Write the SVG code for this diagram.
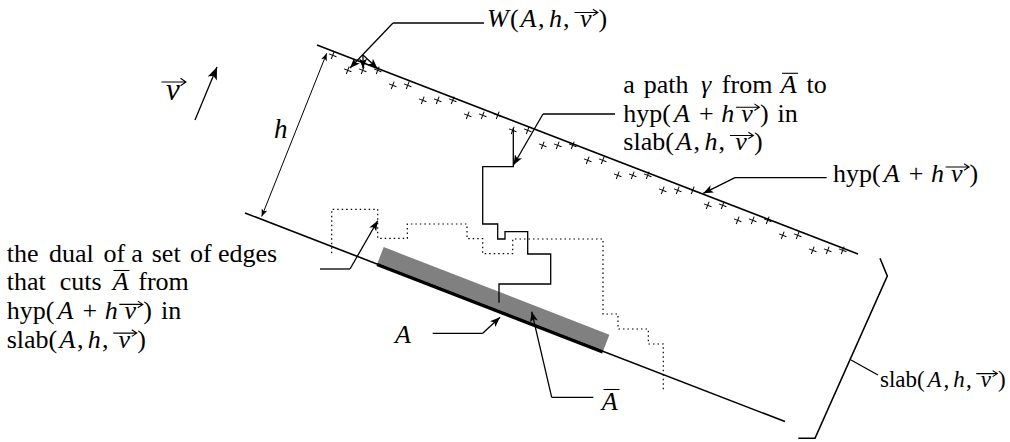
<svg xmlns="http://www.w3.org/2000/svg" width="1010" height="442" viewBox="0 0 1010 442">
<defs>
<style>
.ln{stroke:#000;stroke-width:1.6;fill:none}
.ld{stroke:#000;stroke-width:1.3;fill:none}
.ar{stroke:#000;stroke-width:1.3;fill:none;marker-end:url(#ah)}
.dot{stroke:#000;stroke-width:1.2;fill:none;stroke-dasharray:1.5 3}
.t{font-family:'Liberation Serif','Times New Roman',serif;font-size:26px;fill:#000}
.i{font-style:italic}
.vec{stroke:#000;stroke-width:1.1;fill:none}
.pm{stroke:#000;stroke-width:1;fill:none}
</style>
<marker id="ah" viewBox="0 0 10 8" refX="10" refY="4" markerWidth="10" markerHeight="8" markerUnits="userSpaceOnUse" orient="auto"><path d="M0 0L10 4L0 8L2.5 4Z" fill="#000"/></marker>
<marker id="ahb" viewBox="0 0 10 8" refX="10" refY="4" markerWidth="13" markerHeight="10" markerUnits="userSpaceOnUse" orient="auto"><path d="M0 0L10 4L0 8L2.5 4Z" fill="#000"/></marker>
<marker id="ahs" viewBox="0 0 10 8" refX="10" refY="4" markerWidth="8" markerHeight="6" markerUnits="userSpaceOnUse" orient="auto-start-reverse"><path d="M0 0L10 4L0 8L2.5 4Z" fill="#000"/></marker>
<g id="pl" transform="rotate(21.12)"><path class="pm" d="M-4 0H4M0 -4V4"/></g>
</defs>

<g id="region-A">
<polygon points="377,264.4 602.7,352 609.4,334.7 383.7,247.1" fill="#808080"/>
<line x1="377" y1="264.4" x2="602.7" y2="352" stroke="#000" stroke-width="3.2"/>
</g>

<g id="hyperplanes">
<line class="ln" x1="317" y1="45" x2="858" y2="254"/>
<line class="ln" x1="245" y1="213" x2="785" y2="421.6"/>
</g>

<g id="lattice-W">
<use href="#pl" x="332.7" y="55.3"/><use href="#pl" x="347.7" y="70.3"/><use href="#pl" x="362.7" y="70.3"/><use href="#pl" x="377.7" y="70.3"/>
<use href="#pl" x="392.7" y="85.3"/><use href="#pl" x="407.7" y="85.3"/><use href="#pl" x="422.7" y="100.3"/><use href="#pl" x="437.7" y="100.3"/>
<use href="#pl" x="452.7" y="100.3"/><use href="#pl" x="467.7" y="115.3"/><use href="#pl" x="482.7" y="115.3"/><use href="#pl" x="497.7" y="115.3"/>
<use href="#pl" x="512.7" y="130.3"/><use href="#pl" x="527.7" y="130.3"/><use href="#pl" x="542.7" y="145.3"/><use href="#pl" x="557.7" y="145.3"/>
<use href="#pl" x="572.7" y="145.3"/><use href="#pl" x="587.7" y="160.3"/><use href="#pl" x="602.7" y="160.3"/><use href="#pl" x="617.7" y="175.3"/>
<use href="#pl" x="632.7" y="175.3"/><use href="#pl" x="647.7" y="175.3"/><use href="#pl" x="662.7" y="190.3"/><use href="#pl" x="677.7" y="190.3"/>
<use href="#pl" x="692.7" y="190.3"/><use href="#pl" x="707.7" y="205.3"/><use href="#pl" x="722.7" y="205.3"/><use href="#pl" x="737.7" y="220.3"/>
<use href="#pl" x="752.7" y="220.3"/><use href="#pl" x="767.7" y="220.3"/><use href="#pl" x="782.7" y="235.3"/><use href="#pl" x="797.7" y="235.3"/>
<use href="#pl" x="812.7" y="250.3"/><use href="#pl" x="827.7" y="250.3"/><use href="#pl" x="842.7" y="250.3"/>
</g>

<g id="dual-cut">
<path class="dot" d="M331.7 253.3V209.3H377.7V238.3H407.3V224H467V238.7H482.7V253.7H512.7V239H603V314H618V329H648.3V344H663.3V390"/>
</g>

<g id="path-gamma">
<path class="ld" stroke-width="1.5" d="M499 302.7V284H550.7V254H527.7V231.7H505V239H497.7V224H482.7V166.7H513.3V128"/>
</g>

<g id="slab-bracket">
<polyline class="ln" points="880,258.3 887.3,276 815,438.3 798.3,438.3"/>
</g>

<g id="connectors">
<line x1="195" y1="120" x2="217" y2="67" stroke="#000" stroke-width="1.3" marker-end="url(#ahb)"/>
<line x1="261.7" y1="216.5" x2="326.7" y2="53.3" stroke="#000" stroke-width="1" marker-start="url(#ahs)" marker-end="url(#ahs)"/>
<path class="ld" d="M484 23H393"/>
<path class="ar" d="M393 23L350 68"/>
<path class="ar" d="M363 55L363 68.5"/>
<path class="ar" d="M363 55L377.5 68.5"/>
<path class="ld" d="M615 114H543"/>
<path class="ar" d="M543 114L513.5 165"/>
<path class="ld" d="M826.7 177.7H735"/>
<path class="ar" d="M735 177.7L703.3 193.3"/>
<path class="ld" d="M320 269H350"/>
<path class="ar" d="M350 269L377.7 220.7"/>
<path class="ld" d="M432.7 333.3H482.7"/>
<path class="ar" d="M482.7 333.3L500 317.3"/>
<path class="ld" d="M593.3 397.3H551.7"/>
<path class="ar" d="M551.7 397.3L531.7 311.7"/>
<path class="ld" d="M851 360L878 375"/>
</g>

<g id="label-v">
<text class="t i" x="166" y="100" style="font-size:31px">v</text>
<path class="vec" d="M161.5 82H186M180.5 78.2L186 82L180.5 85.8"/>
</g>

<g id="label-h">
<text class="t i" x="274" y="138" style="font-size:27px">h</text>
</g>

<g id="label-W">
<text class="t" y="27"><tspan class="i" x="487">W</tspan><tspan x="510.1">(</tspan><tspan class="i" x="520.5">A</tspan><tspan x="538">,</tspan><tspan class="i" x="549">h</tspan><tspan x="563">,</tspan><tspan class="i" x="580">v</tspan><tspan x="598.4">)</tspan></text>
<path class="vec" d="M574.4 12.5H597.9M592.9 9.2L597.9 12.5L592.9 15.8"/>
</g>

<g id="label-gamma">
<text class="t" y="93.3"><tspan x="623.3">a</tspan><tspan x="643.75">path</tspan><tspan class="i" x="700.95">γ</tspan><tspan x="721.85">from</tspan><tspan class="i" x="780.85">A</tspan><tspan x="806.45">to</tspan></text>
<path class="vec" d="M782 73.3H798"/>
<text class="t" y="121.7"><tspan x="623.3">hyp(</tspan><tspan class="i" x="674">A</tspan><tspan x="699">+</tspan><tspan class="i" x="721.3">h</tspan><tspan class="i" x="741.2">v</tspan><tspan x="759.9">)</tspan><tspan x="777.6">in</tspan></text>
<path class="vec" d="M735.9 107.2H759.4M754.4 103.9L759.4 107.2L754.4 110.5"/>
<text class="t" y="150"><tspan x="623.3">slab(</tspan><tspan class="i" x="676">A</tspan><tspan x="693.5">,</tspan><tspan class="i" x="704.4">h</tspan><tspan x="718.5">,</tspan><tspan class="i" x="735.2">v</tspan><tspan x="753.9">)</tspan></text>
<path class="vec" d="M729.9 135.5H753.4M748.4 132.2L753.4 135.5L748.4 138.8"/>
</g>

<g id="label-hyp">
<text class="t" y="181.5"><tspan x="833">hyp(</tspan><tspan class="i" x="883.7">A</tspan><tspan x="908.7">+</tspan><tspan class="i" x="931">h</tspan><tspan class="i" x="950.9">v</tspan><tspan x="969.6">)</tspan></text>
<path class="vec" d="M945.6 167H969.1M964.1 163.7L969.1 167L964.1 170.3"/>
</g>

<g id="label-dual">
<text class="t" y="261.5"><tspan x="6.7">the</tspan><tspan x="48.9">dual</tspan><tspan x="103.4">of</tspan><tspan x="131.3">a</tspan><tspan x="151.75">set</tspan><tspan x="190.05">of</tspan><tspan x="217.95">edges</tspan></text>
<text class="t" y="290.2"><tspan x="6.7">that</tspan><tspan x="59.8">cuts</tspan><tspan class="i" x="112.7">A</tspan><tspan x="138.3">from</tspan></text>
<path class="vec" d="M113.5 270.5H129.5"/>
<text class="t" y="318.9"><tspan x="6.7">hyp(</tspan><tspan class="i" x="57.4">A</tspan><tspan x="82.4">+</tspan><tspan class="i" x="104.7">h</tspan><tspan class="i" x="124.6">v</tspan><tspan x="143.3">)</tspan><tspan x="161">in</tspan></text>
<path class="vec" d="M119.3 304.4H142.8M137.8 301.1L142.8 304.4L137.8 307.7"/>
<text class="t" y="347.6"><tspan x="6.7">slab(</tspan><tspan class="i" x="59.5">A</tspan><tspan x="76.9">,</tspan><tspan class="i" x="87.8">h</tspan><tspan x="101.9">,</tspan><tspan class="i" x="118.6">v</tspan><tspan x="137.3">)</tspan></text>
<path class="vec" d="M113.3 333.1H136.8M131.8 329.8L136.8 333.1L131.8 336.4"/>
</g>

<g id="label-A">
<text class="t i" x="395" y="343.3">A</text>
</g>

<g id="label-Abar">
<text class="t i" x="601.7" y="409.5">A</text>
<path class="vec" d="M603.5 389.5H619.5"/>
</g>

<g id="label-slab">
<text class="t" y="386.7" style="font-size:23px"><tspan x="880">slab(</tspan><tspan class="i" x="927.5">A</tspan><tspan x="943.4">,</tspan><tspan class="i" x="953.2">h</tspan><tspan x="965.9">,</tspan><tspan class="i" x="980.8">v</tspan><tspan x="997.9">)</tspan></text>
<path class="vec" d="M976.3 373.6H997.4M992.6 370.6L997.4 373.6L992.6 376.6"/>
</g>
</svg>
